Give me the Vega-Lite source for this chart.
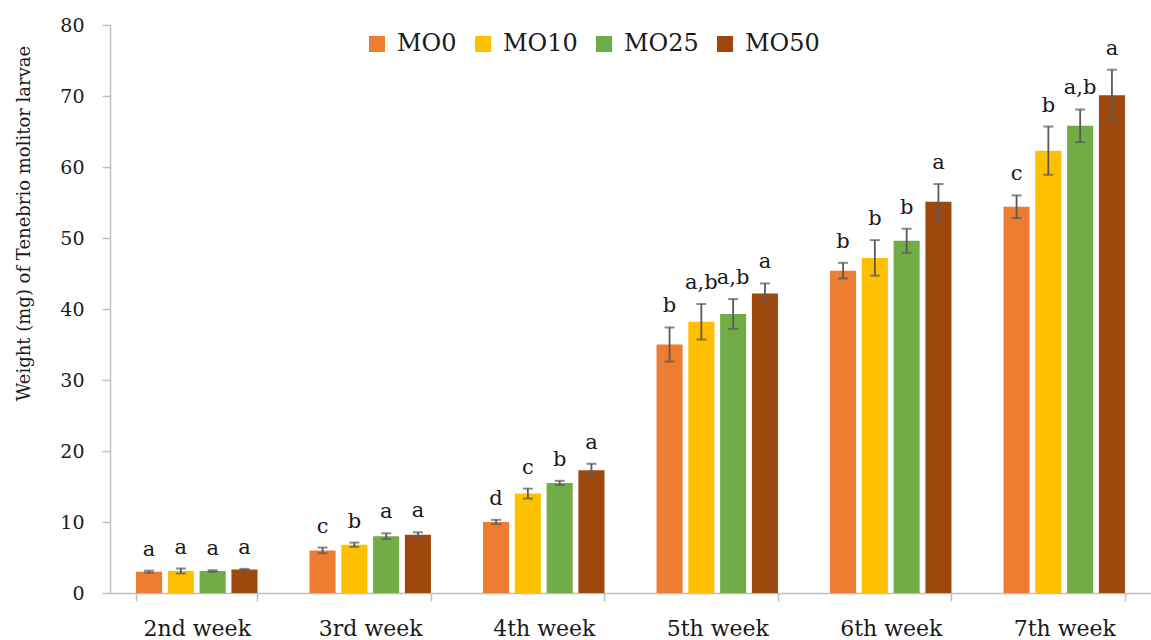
{
  "$schema": "https://vega.github.io/schema/vega-lite/v6.json",
  "width": 1041,
  "height": 568,
  "autosize": {"type": "none"},
  "padding": {"left": 110, "top": 25, "right": 0, "bottom": 47},
  "background": "white",
  "config": {
    "view": {"stroke": null},
    "font": "DejaVu Serif",
    "legend": {
      "orient": "none",
      "legendX": 255,
      "legendY": 7,
      "direction": "horizontal",
      "title": null,
      "symbolType": "square",
      "symbolSize": 256,
      "symbolStrokeWidth": 0,
      "labelFontSize": 24,
      "labelFont": "DejaVu Serif",
      "labelColor": "#1a1a1a",
      "labelOffset": 8,
      "columnPadding": 14,
      "padding": 0
    }
  },
  "data": {
    "values": [
      {"week": "2nd week", "group": "MO0", "mean": 3.0, "lo": 2.85, "hi": 3.15, "letter": "a"},
      {"week": "2nd week", "group": "MO10", "mean": 3.1, "lo": 2.75, "hi": 3.45, "letter": "a"},
      {"week": "2nd week", "group": "MO25", "mean": 3.1, "lo": 3.0, "hi": 3.2, "letter": "a"},
      {"week": "2nd week", "group": "MO50", "mean": 3.3, "lo": 3.2, "hi": 3.4, "letter": "a"},
      {"week": "3rd week", "group": "MO0", "mean": 6.0, "lo": 5.6, "hi": 6.4, "letter": "c"},
      {"week": "3rd week", "group": "MO10", "mean": 6.8, "lo": 6.5, "hi": 7.1, "letter": "b"},
      {"week": "3rd week", "group": "MO25", "mean": 8.0, "lo": 7.6, "hi": 8.4, "letter": "a"},
      {"week": "3rd week", "group": "MO50", "mean": 8.2, "lo": 7.85, "hi": 8.55, "letter": "a"},
      {"week": "4th week", "group": "MO0", "mean": 10.0, "lo": 9.7, "hi": 10.3, "letter": "d"},
      {"week": "4th week", "group": "MO10", "mean": 14.0, "lo": 13.3, "hi": 14.7, "letter": "c"},
      {"week": "4th week", "group": "MO25", "mean": 15.5, "lo": 15.2, "hi": 15.8, "letter": "b"},
      {"week": "4th week", "group": "MO50", "mean": 17.3, "lo": 16.4, "hi": 18.2, "letter": "a"},
      {"week": "5th week", "group": "MO0", "mean": 35.0, "lo": 32.6, "hi": 37.4, "letter": "b"},
      {"week": "5th week", "group": "MO10", "mean": 38.2, "lo": 35.7, "hi": 40.7, "letter": "a,b"},
      {"week": "5th week", "group": "MO25", "mean": 39.3, "lo": 37.2, "hi": 41.4, "letter": "a,b"},
      {"week": "5th week", "group": "MO50", "mean": 42.2, "lo": 40.8, "hi": 43.6, "letter": "a"},
      {"week": "6th week", "group": "MO0", "mean": 45.4, "lo": 44.3, "hi": 46.5, "letter": "b"},
      {"week": "6th week", "group": "MO10", "mean": 47.2, "lo": 44.7, "hi": 49.7, "letter": "b"},
      {"week": "6th week", "group": "MO25", "mean": 49.6, "lo": 47.9, "hi": 51.3, "letter": "b"},
      {"week": "6th week", "group": "MO50", "mean": 55.1, "lo": 52.6, "hi": 57.6, "letter": "a"},
      {"week": "7th week", "group": "MO0", "mean": 54.4, "lo": 52.8, "hi": 56.0, "letter": "c"},
      {"week": "7th week", "group": "MO10", "mean": 62.3, "lo": 58.9, "hi": 65.7, "letter": "b"},
      {"week": "7th week", "group": "MO25", "mean": 65.8, "lo": 63.5, "hi": 68.1, "letter": "a,b"},
      {"week": "7th week", "group": "MO50", "mean": 70.1, "lo": 66.5, "hi": 73.7, "letter": "a"}
    ]
  },
  "encoding": {
    "x": {
      "field": "week",
      "type": "nominal",
      "sort": ["2nd week", "3rd week", "4th week", "5th week", "6th week", "7th week"],
      "scale": {"paddingInner": 0.3, "paddingOuter": 0.15},
      "axis": {
        "title": null,
        "labelAngle": 0,
        "labelFontSize": 22,
        "labelFont": "DejaVu Serif",
        "labelColor": "#1a1a1a",
        "labelPadding": 17,
        "tickBand": "extent",
        "tickSize": 8,
        "domainColor": "#BFBFBF",
        "tickColor": "#BFBFBF",
        "domainWidth": 1.5,
        "tickWidth": 1.5
      }
    },
    "xOffset": {
      "field": "group",
      "type": "nominal",
      "sort": ["MO0", "MO10", "MO25", "MO50"],
      "scale": {"paddingInner": 0.18, "paddingOuter": 0}
    }
  },
  "layer": [
    {
      "mark": {"type": "bar"},
      "encoding": {
        "y": {
          "field": "mean",
          "type": "quantitative",
          "scale": {"domain": [0, 80]},
          "axis": {
            "title": "Weight (mg) of Tenebrio molitor larvae",
            "values": [0, 10, 20, 30, 40, 50, 60, 70, 80],
            "grid": false,
            "tickSize": 8,
            "labelPadding": 18,
            "labelFontSize": 19,
            "labelFont": "DejaVu Serif",
            "labelColor": "#1a1a1a",
            "domainColor": "#BFBFBF",
            "tickColor": "#BFBFBF",
            "domainWidth": 1.5,
            "tickWidth": 1.5,
            "titleFont": "DejaVu Serif",
            "titleFontSize": 18,
            "titleFontWeight": "normal",
            "titleColor": "#1a1a1a",
            "titleX": -86,
            "titleY": 198,
            "titleAlign": "center",
            "titleBaseline": "middle"
          }
        },
        "color": {
          "field": "group",
          "type": "nominal",
          "sort": ["MO0", "MO10", "MO25", "MO50"],
          "scale": {
            "domain": ["MO0", "MO10", "MO25", "MO50"],
            "range": ["#ED7D31", "#FFC000", "#70AD47", "#9E480E"]
          }
        }
      }
    },
    {
      "mark": {
        "type": "errorbar",
        "ticks": {"size": 10, "thickness": 2, "color": "#595959"},
        "rule": {"strokeWidth": 1.8, "color": "#595959"}
      },
      "encoding": {
        "y": {"field": "lo", "type": "quantitative", "title": "Weight (mg) of Tenebrio molitor larvae"},
        "y2": {"field": "hi"}
      }
    },
    {
      "mark": {"type": "text", "baseline": "alphabetic", "dy": -15, "fontSize": 21, "font": "DejaVu Serif", "color": "#1a1a1a"},
      "encoding": {
        "y": {"field": "hi", "type": "quantitative", "title": "Weight (mg) of Tenebrio molitor larvae"},
        "text": {"field": "letter"}
      }
    }
  ]
}
